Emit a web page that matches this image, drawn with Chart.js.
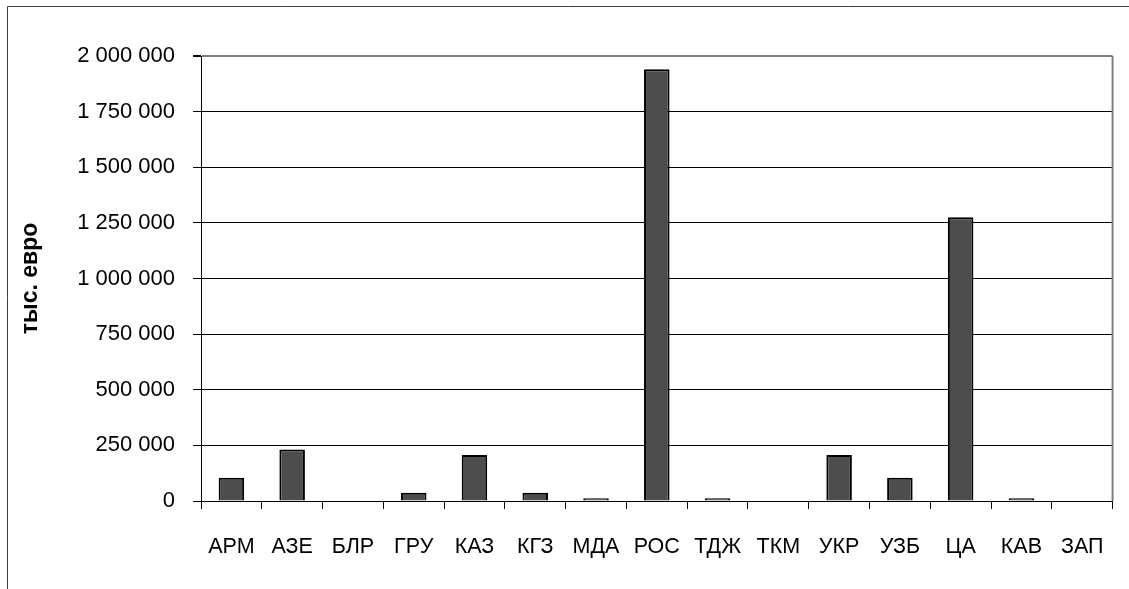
<!DOCTYPE html>
<html>
<head>
<meta charset="utf-8">
<script src="https://cdn.jsdelivr.net/npm/chart.js@4"></script>
<style>
    html, body { margin: 0; padding: 0; background: #fff; }
    #wrap { width: 1129px; height: 589px; position: relative; }
</style>
</head>
<body>
<div id="wrap"><canvas id="bars"></canvas></div>
<script>
// страны / регионы
const countries = ['АРМ', 'АЗЕ', 'БЛР', 'ГРУ', 'КАЗ', 'КГЗ', 'МДА', 'РОС', 'ТДЖ', 'ТКМ', 'УКР', 'УЗБ', 'ЦА', 'КАВ', 'ЗАП'];
// тыс. евро
const amounts = [105000, 232000, 0, 37000, 207000, 37000, 12000, 1940000, 12000, 0, 207000, 105000, 1275000, 12000, 0];
const yTicks = [0, 250000, 500000, 750000, 1000000, 1250000, 1500000, 1750000, 2000000];

const fontFamily = 'Arial, "Liberation Sans", sans-serif';

function spaced(v) {
    return String(v).replace(/\B(?=(\d{3})+(?!\d))/g, ' ');
}

// рамка диаграммы и правая граница области построения
const frame = {
    id: 'frame',
    afterDraw(chart) {
        const ctx = chart.ctx;
        const a = chart.chartArea;
        ctx.save();
        ctx.strokeStyle = '#404040';
        ctx.lineWidth = 1;
        ctx.beginPath();
        ctx.moveTo(7.5, 589);
        ctx.lineTo(7.5, 6.5);
        ctx.lineTo(1129, 6.5);
        ctx.stroke();
        ctx.strokeStyle = '#808080';
        ctx.lineWidth = 2;
        ctx.beginPath();
        ctx.moveTo(a.right, a.top);
        ctx.lineTo(a.right, a.bottom);
        ctx.stroke();
        ctx.restore();
    }
};

new Chart(document.getElementById('bars'), {
    type: 'bar',
    data: {
        labels: countries,
        datasets: [{
            label: 'тыс. евро',
            data: amounts,
            backgroundColor: '#4d4d4d',
            borderColor: '#000',
            borderWidth: 2,
            borderSkipped: 'start',
            categoryPercentage: 1,
            barPercentage: 0.42
        }]
    },
    options: {
        responsive: true,
        maintainAspectRatio: false,
        animation: false,
        layout: { padding: { top: 56, right: 16, bottom: 0, left: 0 } },
        plugins: {
            legend: { display: false },
            tooltip: { enabled: false }
        },
        scales: {
            x: {
                grid: {
                    offset: true,
                    drawOnChartArea: false,
                    drawTicks: true,
                    tickLength: 8,
                    color: '#000'
                },
                border: { color: '#000', width: 1 },
                ticks: {
                    autoSkip: false,
                    maxRotation: 0,
                    padding: 25,
                    color: '#000',
                    font: { family: fontFamily, size: 21.5 }
                },
                afterFit(axis) { axis.height = 88; }
            },
            y: {
                min: 0,
                max: 2000000,
                afterBuildTicks(axis) { axis.ticks = yTicks.map(v => ({ value: v })); },
                grid: {
                    color: ctx => (ctx.tick && ctx.tick.value === 2000000) ? '#808080' : '#000',
                    lineWidth: ctx => (ctx.tick && ctx.tick.value === 2000000) ? 2 : 1,
                    tickLength: 8,
                    tickColor: '#000'
                },
                border: { color: '#000', width: 1 },
                ticks: {
                    padding: 18,
                    color: '#000',
                    font: { family: fontFamily, size: 22 },
                    callback: v => spaced(v)
                },
                title: {
                    display: true,
                    text: 'тыс. евро',
                    color: '#000',
                    padding: { top: 17, bottom: 0 },
                    font: { family: fontFamily, size: 23, weight: 'bold' }
                },
                afterFit(axis) { axis.width = 201; }
            }
        }
    },
    plugins: [frame]
});
</script>
</body>
</html>
